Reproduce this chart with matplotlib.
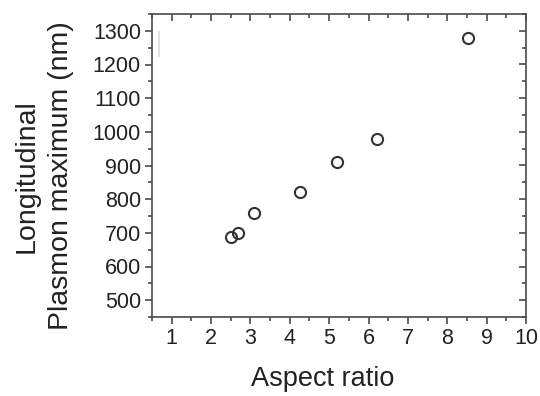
import matplotlib
matplotlib.use("Agg")
import matplotlib.pyplot as plt
from matplotlib.ticker import MultipleLocator

plt.rcParams['font.family'] = ['Liberation Sans', 'DejaVu Sans']

aspect_ratio = [2.50, 2.69, 3.08, 4.27, 5.21, 6.21, 8.52]
plasmon_max = [688, 700, 760, 820, 910, 980, 1280]
x_ticks = [1, 2, 3, 4, 5, 6, 7, 8, 9, 10]
y_ticks = [500, 600, 700, 800, 900, 1000, 1100, 1200, 1300]

fig = plt.figure(figsize=(5.4, 3.96), dpi=100)
ax = fig.add_axes([152/540, 1-317/396, (526-152)/540, (317-14)/396])

ax.plot(aspect_ratio, plasmon_max, linestyle='none', marker='o', markersize=8,
        markerfacecolor='none', markeredgecolor='#333333', markeredgewidth=1.5)

ax.set_xlim(0.5, 10)
ax.set_ylim(450, 1350)
ax.set_xticks(x_ticks)
ax.set_yticks(y_ticks)
ax.xaxis.set_minor_locator(MultipleLocator(0.5))
ax.yaxis.set_minor_locator(MultipleLocator(50))

for s in ax.spines.values():
    s.set_color('#4a4a4a')
    s.set_linewidth(1.2)

ax.tick_params(which='both', color='#4a4a4a', width=1.2, labelsize=15.5, labelcolor='#222222',
               direction='out', top=False, right=False)
ax.tick_params(which='major', length=5, pad=3)
ax.tick_params(which='minor', length=3)

# inward ticks on top/right
ax2 = ax.secondary_xaxis('top')
ax2.set_xticks(x_ticks)
ax2.xaxis.set_minor_locator(MultipleLocator(0.5))
ax2.tick_params(which='both', direction='in', color='#4a4a4a', width=1.2, labeltop=False)
ax2.tick_params(which='major', length=5)
ax2.tick_params(which='minor', length=3)
ax2.set_xticklabels([])
ax3 = ax.secondary_yaxis('right')
ax3.set_yticks(y_ticks)
ax3.yaxis.set_minor_locator(MultipleLocator(50))
ax3.tick_params(which='both', direction='in', color='#4a4a4a', width=1.2)
ax3.tick_params(which='major', length=5)
ax3.tick_params(which='minor', length=3)
ax3.set_yticklabels([])
for sp in ax2.spines.values():
    sp.set_visible(False)
for sp in ax3.spines.values():
    sp.set_visible(False)

# faint artifact line at top-left
ax.plot([0.02, 0.02], [0.86, 0.94], transform=ax.transAxes, color='#dddddd', linewidth=1.2)

fig.text(44/540, 1-176/396, 'Longitudinal\nPlasmon maximum (nm)', rotation=90,
         ha='center', va='center', fontsize=20.5, color='#222222', linespacing=1.45)
fig.text(323/540, 1-379/396, 'Aspect ratio', ha='center', va='center',
         fontsize=19.5, color='#222222')

fig.savefig('out.png', dpi=100)
